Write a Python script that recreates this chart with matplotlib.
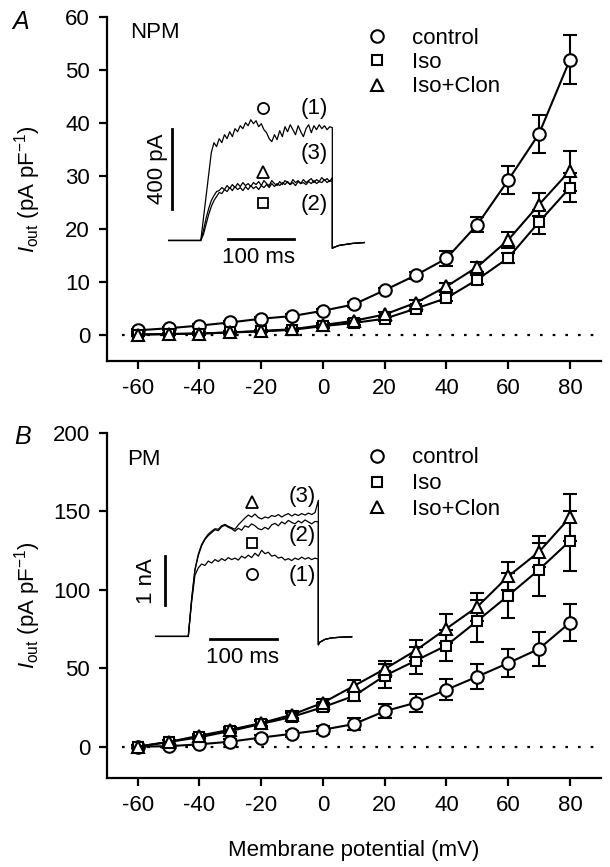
import numpy as np
import matplotlib
matplotlib.use('Agg')
import matplotlib.pyplot as plt
from matplotlib.lines import Line2D

plt.rcParams['font.family'] = ['Liberation Sans', 'DejaVu Sans']
plt.rcParams['mathtext.fontset'] = 'custom'
plt.rcParams['mathtext.rm'] = 'Liberation Sans'
plt.rcParams['mathtext.it'] = 'Liberation Sans:italic'
plt.rcParams['axes.unicode_minus'] = False

# membrane potential (mV)
volts = [-60, -50, -40, -30, -20, -10, 0, 10, 20, 30, 40, 50, 60, 70, 80]
labels = ['control', 'Iso', 'Iso+Clon']

# panel A, NPM (pA/pF)
npm_ctrl = [0.8, 1.2, 1.7, 2.3, 3.0, 3.5, 4.5, 5.7, 8.4, 11.2, 14.4, 20.8, 29.2, 38.0, 52.0]
npm_ctrl_err = [0.3, 0.3, 0.3, 0.3, 0.3, 0.3, 0.4, 0.4, 0.5, 0.6, 1.4, 1.4, 2.7, 3.6, 4.6]
npm_iso = [0.0, 0.1, 0.2, 0.4, 0.6, 0.9, 1.6, 2.2, 3.0, 4.9, 6.9, 10.4, 14.5, 21.3, 27.8]
npm_iso_err = [0.2, 0.2, 0.2, 0.2, 0.2, 0.3, 0.3, 0.3, 0.4, 0.5, 0.6, 0.8, 1.0, 2.2, 2.8]
npm_clon = [0.0, 0.1, 0.2, 0.4, 0.7, 1.0, 1.8, 2.6, 3.8, 6.0, 9.1, 12.8, 17.9, 24.6, 31.0]
npm_clon_err = [0.2, 0.2, 0.2, 0.2, 0.2, 0.3, 0.3, 0.3, 0.4, 0.5, 0.7, 1.0, 1.5, 2.2, 3.8]

# panel B, PM (pA/pF)
pm_ctrl = [0.0, 0.3, 1.5, 3.2, 5.8, 8.2, 10.8, 14.4, 22.6, 28.0, 36.3, 44.7, 53.3, 62.4, 79.1]
pm_ctrl_err = [1.0, 1.0, 1.2, 1.5, 1.8, 2.0, 2.4, 3.9, 4.3, 5.8, 6.7, 8.0, 9.0, 11.0, 11.7]
pm_iso = [0.0, 3.0, 6.0, 10.0, 14.5, 19.0, 25.2, 32.3, 45.2, 54.8, 64.5, 80.2, 96.3, 112.9, 131.2]
pm_iso_err = [1.0, 1.0, 1.2, 1.5, 2.0, 2.2, 2.5, 3.0, 7.6, 8.6, 10.0, 13.5, 14.5, 17.0, 19.0]
pm_clon = [0.0, 3.0, 7.0, 10.8, 15.0, 20.4, 28.0, 38.7, 49.5, 61.3, 75.3, 89.2, 108.6, 124.3, 146.2]
pm_clon_err = [1.0, 1.0, 1.2, 1.5, 2.0, 2.2, 2.5, 3.7, 5.0, 6.5, 9.0, 9.0, 9.0, 10.0, 15.0]

# inset traces, panel A (pA), sampled every 4 ms during the 200 ms pulse
tA = np.arange(0, 201, 4)
trA_1 = [0, 110, 220, 330, 440, 490, 470, 510, 490, 530, 510, 545, 520, 560, 545, 575,
         560, 590, 575, 605, 585, 600, 570, 585, 555, 540, 510, 495, 530, 505, 550, 520,
         570, 545, 580, 555, 530, 575, 545, 520, 560, 580, 540, 575, 555, 580, 560, 575,
         555, 570, 565]
trA_2 = [0, 30, 80, 130, 170, 200, 220, 240, 235, 255, 245, 265, 250, 270, 255, 265,
         250, 270, 255, 275, 260, 270, 255, 275, 265, 280, 265, 285, 270, 285, 275, 290,
         280, 295, 280, 290, 275, 295, 285, 290, 280, 295, 285, 300, 285, 295, 290, 305,
         290, 300, 295]
trA_3 = [0, 50, 110, 160, 200, 225, 245, 250, 265, 255, 275, 260, 280, 265, 285, 270,
         290, 275, 285, 270, 290, 280, 295, 275, 300, 285, 275, 300, 285, 275, 295, 280,
         300, 290, 280, 305, 290, 300, 285, 305, 290, 300, 310, 290, 305, 295, 315, 300,
         310, 295, 315]
tA_post = [200, 202, 210, 230, 250]
trA_post = [-40, -35, -25, -15, -10]

# inset traces, panel B (pA), sampled every 5 ms during the pulse
tB = np.arange(0, 196, 5)
trB_1 = [0, 700, 1250, 1400, 1480, 1450, 1540, 1500, 1570, 1530, 1590, 1550, 1610, 1570,
         1600, 1560, 1640, 1600, 1660, 1610, 1700, 1640, 1760, 1690, 1720, 1640, 1660,
         1600, 1620, 1560, 1590, 1550, 1600, 1570, 1620, 1580, 1610, 1570, 1600, 1580]
trB_2 = [0, 750, 1350, 1650, 1850, 1980, 2060, 2120, 2180, 2160, 2240, 2270, 2230, 2200,
         2150, 2210, 2170, 2260, 2230, 2300, 2260, 2200, 2180, 2230, 2190, 2280, 2310,
         2260, 2340, 2300, 2370, 2330, 2300, 2360, 2320, 2380, 2340, 2300, 2350, 2340]
trB_3 = [0, 760, 1370, 1680, 1880, 2000, 2090, 2150, 2200, 2190, 2260, 2290, 2250, 2220,
         2190, 2280, 2350, 2420, 2480, 2440, 2500, 2430, 2400, 2440, 2420, 2470, 2450,
         2490, 2440, 2480, 2510, 2460, 2500, 2470, 2510, 2480, 2520, 2490, 2530, 2780]
tB_post = [195, 197, 205, 215, 230, 245]
trB_post = [-170, -120, -60, -30, -15, -10]

FS = 16


def full_trace(t_pulse, i_pulse, t_post, i_post):
    t = np.concatenate([[-50, 0], t_pulse, t_post])
    i = np.concatenate([[0, 0], i_pulse, i_post])
    return t, i


def plot_iv(ax, series, ylim, yticks):
    markers = ['o', 's', '^']
    sizes = [9, 7.5, 8.5]
    for (vals, errs), m, ms in zip(series, markers, sizes):
        ax.errorbar(volts, vals, yerr=errs, fmt='-', color='k', lw=1.5,
                    marker=m, ms=ms, mfc='white', mec='k', mew=1.5,
                    ecolor='k', elinewidth=1.5, capsize=5, capthick=1.5, zorder=3)
    ax.axhline(0, xmin=0.03, xmax=0.99, color='k', lw=1.6,
               ls=(0, (1.2, 4.5)), zorder=1)
    ax.set_xlim(-70, 90)
    ax.set_ylim(*ylim)
    ax.set_xticks([-60, -40, -20, 0, 20, 40, 60, 80])
    ax.set_yticks(yticks)
    ax.spines['top'].set_visible(False)
    ax.spines['right'].set_visible(False)
    ax.spines['left'].set_linewidth(1.6)
    ax.spines['bottom'].set_linewidth(1.6)
    ax.tick_params(direction='out', length=6, width=1.6, labelsize=FS, pad=6)
    ax.set_ylabel(r'$I_{\rm out}$ (pA pF$^{-1}$)', fontsize=FS)
    ax.yaxis.set_label_coords(-0.13, 0.5)

    handles = [Line2D([], [], ls='none', marker=m, ms=ms, mfc='white', mec='k', mew=1.5)
               for m, ms in zip(markers, sizes)]
    return handles


def plot_inset(ax, bounds, xlim, ylim, traces, bar_v, bar_h, v_label, v_lab_pos,
               h_lab_pos, marks, nums):
    ins = ax.inset_axes(bounds, transform=ax.transData)
    ins.set_xlim(*xlim)
    ins.set_ylim(*ylim)
    ins.axis('off')
    for t, i in traces:
        ins.plot(t, i, color='k', lw=0.9)
    ins.plot(bar_v[0], bar_v[1], color='k', lw=2)
    ins.plot(bar_h[0], bar_h[1], color='k', lw=2)
    ins.text(v_lab_pos[0], v_lab_pos[1], v_label, rotation=90, fontsize=FS,
             ha='center', va='center')
    ins.text(h_lab_pos[0], h_lab_pos[1], '100 ms', fontsize=FS,
             ha='center', va='center')
    for m, ms, (x, y) in zip(['o', 's', '^'], [8, 7, 8], marks):
        ins.plot(x, y, ls='none', marker=m, ms=ms, mfc='white', mec='k', mew=1.3)
    for txt, (x, y) in zip(['(1)', '(2)', '(3)'], nums):
        ins.text(x, y, txt, fontsize=FS, ha='center', va='center')
    return ins


fig = plt.figure(figsize=(6.1, 8.67), dpi=100)
axA = fig.add_axes([0.175, 0.5836, 0.81, 0.3964])
axB = fig.add_axes([0.175, 0.1026, 0.81, 0.3980])

# panel A
hA = plot_iv(axA, [(npm_ctrl, npm_ctrl_err), (npm_iso, npm_iso_err),
                   (npm_clon, npm_clon_err)], (-5, 60), [0, 10, 20, 30, 40, 50, 60])
axA.legend(hA, labels, loc='upper left', bbox_to_anchor=(0.525, 0.97),
           frameon=False, fontsize=FS, handlelength=1.0, handletextpad=1.05,
           labelspacing=0.15, borderpad=0, borderaxespad=0)
axA.text(0.048, 0.957, 'NPM', transform=axA.transAxes, fontsize=FS, va='center')
plot_inset(axA, [-50.2, 10.25, 63.9, 37.75], (-50, 250), (-200, 800),
           [full_trace(tA, trA_1, tA_post, trA_post),
            full_trace(tA, trA_2, tA_post, trA_post),
            full_trace(tA, trA_3, tA_post, trA_post)],
           ([-43, -43], [160, 560]), ([42, 142], [5, 5]), '400 pA', (-66, 360),
           (88, -85), [(95, 662), (95, 188), (95, 342)],
           [(173, 662), (173, 180), (173, 437)])

# panel B
hB = plot_iv(axB, [(pm_ctrl, pm_ctrl_err), (pm_iso, pm_iso_err),
                   (pm_clon, pm_clon_err)], (-20, 200), [0, 50, 100, 150, 200])
axB.legend(hB, labels, loc='upper left', bbox_to_anchor=(0.525, 0.958),
           frameon=False, fontsize=FS, handlelength=1.0, handletextpad=1.05,
           labelspacing=0.22, borderpad=0, borderaxespad=0)
axB.text(0.041, 0.922, 'PM', transform=axB.transAxes, fontsize=FS, va='center')
plot_inset(axB, [-54.4, 54.7, 64.8, 109.2], (-50, 250), (-500, 3000),
           [full_trace(tB, trB_1, tB_post, trB_post),
            full_trace(tB, trB_2, tB_post, trB_post),
            full_trace(tB, trB_3, tB_post, trB_post)],
           ([-35, -35], [640, 1640]), ([33, 133], [-60, -60]), '1 nA', (-62, 1125),
           (82, -440), [(96, 1282), (96, 1904), (96, 2744)],
           [(171, 1240), (171, 2054), (171, 2869)])
axB.set_xlabel('Membrane potential (mV)', fontsize=FS)
axB.xaxis.set_label_coords(0.5, -0.18)

fig.text(21 / 610, 1 - 22 / 867, 'A', fontsize=18, style='italic', ha='center', va='center')
fig.text(23 / 610, 1 - 437 / 867, 'B', fontsize=18, style='italic', ha='center', va='center')

fig.savefig('out.png', dpi=100)
